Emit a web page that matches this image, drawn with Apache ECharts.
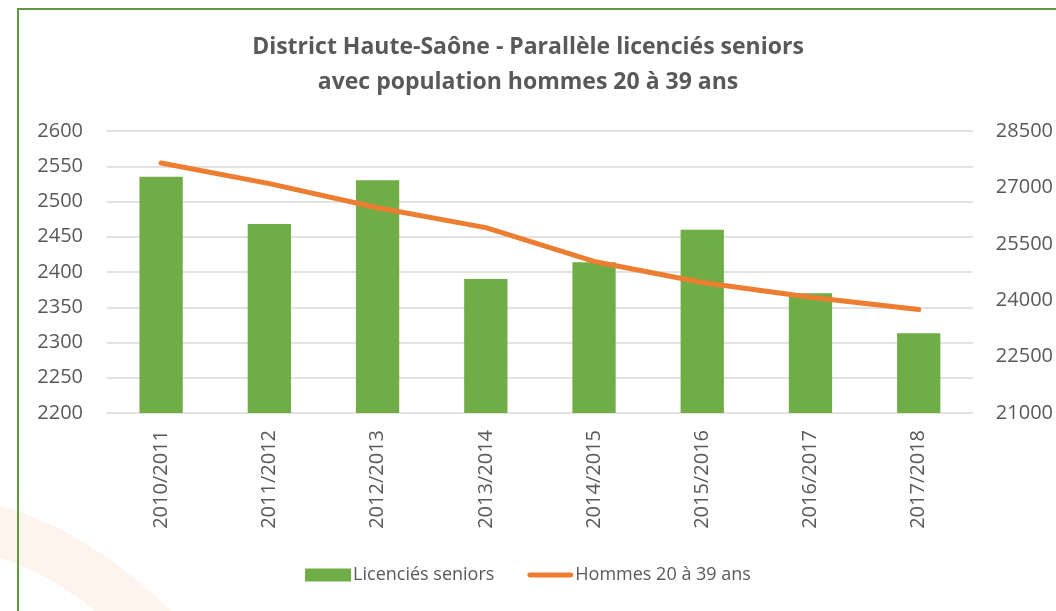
<!DOCTYPE html>
<html>
<head>
<meta charset="utf-8">
<script src="https://cdn.jsdelivr.net/npm/echarts@6/dist/echarts.min.js"></script>
<style>
  html, body { margin: 0; padding: 0; background: #fff; }
  #main { width: 1056px; height: 611px; }
</style>
</head>
<body>
<div id="main"></div>
<script>
// données
const saisons = ['2010/2011', '2011/2012', '2012/2013', '2013/2014', '2014/2015', '2015/2016', '2016/2017', '2017/2018'];
const licencies = [2535, 2468, 2530, 2390, 2414, 2460, 2370, 2313];
const hommes = [27650, 27100, 26460, 25930, 25030, 24470, 24080, 23750];

const TEXT_COLOR = '#595959';
const FONT = '"Open Sans", "Noto Sans", sans-serif';

const myChart = echarts.init(document.getElementById('main'));

const option = {
  backgroundColor: '#fff',
  color: ['#70AD47', '#ED7D31'],
  textStyle: { fontFamily: FONT },
  title: {
    text: 'District Haute-Saône - Parallèle licenciés seniors\navec population hommes 20 à 39 ans',
    left: 'center',
    top: 25,
    textStyle: {
      fontFamily: FONT,
      fontWeight: 'bold',
      fontSize: 23,
      lineHeight: 35,
      color: TEXT_COLOR
    }
  },
  // cadre vert + filigrane orange
  graphic: [
    {
      type: 'bezierCurve',
      silent: true,
      z: -10,
      shape: { x1: -30, y1: 525, cpx1: 70, cpy1: 540, x2: 175, y2: 650 },
      style: { stroke: 'rgba(240, 120, 40, 0.08)', lineWidth: 50, fill: null }
    },
    {
      type: 'rect',
      silent: true,
      shape: { x: 18, y: 9, width: 1200, height: 800 },
      style: { fill: null, stroke: '#62993E', lineWidth: 2 }
    }
  ],
  legend: {
    bottom: 22,
    left: 'center',
    itemGap: 33,
    itemWidth: 46,
    itemHeight: 13,
    textStyle: { fontFamily: FONT, fontSize: 18, color: TEXT_COLOR, padding: [0, 0, 0, -3] },
    data: [
      { name: 'Licenciés seniors', icon: 'rect' },
      { name: 'Hommes 20 à 39 ans', icon: 'path://M2.5,0L45.5,0A2.5,2.5,0,0,1,45.5,5L2.5,5A2.5,2.5,0,0,1,2.5,0Z' }
    ]
  },
  grid: { left: 107, right: 80, top: 131, bottom: 198 },
  xAxis: {
    type: 'category',
    data: saisons,
    axisTick: { show: false },
    axisLine: { show: false },
    axisLabel: {
      rotate: 90,
      margin: 17,
      fontSize: 20,
      color: TEXT_COLOR,
      fontFamily: FONT
    }
  },
  yAxis: [
    {
      type: 'value',
      min: 2200,
      max: 2600,
      interval: 50,
      axisLine: { show: false },
      axisTick: { show: false },
      axisLabel: { fontSize: 20, color: TEXT_COLOR, margin: 24, fontFamily: FONT, formatter: v => String(v) },
      splitLine: { lineStyle: { color: '#D9D9D9', width: 1.5 } }
    },
    {
      type: 'value',
      min: 21000,
      max: 28500,
      interval: 1500,
      axisLine: { show: false },
      axisTick: { show: false },
      axisLabel: { fontSize: 20, color: TEXT_COLOR, margin: 23, fontFamily: FONT, formatter: v => String(v) },
      splitLine: { show: false }
    }
  ],
  series: [
    {
      name: 'Licenciés seniors',
      type: 'bar',
      yAxisIndex: 0,
      barWidth: '40%',
      data: licencies,
      itemStyle: { color: '#70AD47' }
    },
    {
      name: 'Hommes 20 à 39 ans',
      type: 'line',
      yAxisIndex: 1,
      symbol: 'none',
      data: hommes,
      lineStyle: { color: '#ED7D31', width: 5, cap: 'round', join: 'round' },
      itemStyle: { color: '#ED7D31' }
    }
  ]
};

myChart.setOption(option);
</script>
</body>
</html>
